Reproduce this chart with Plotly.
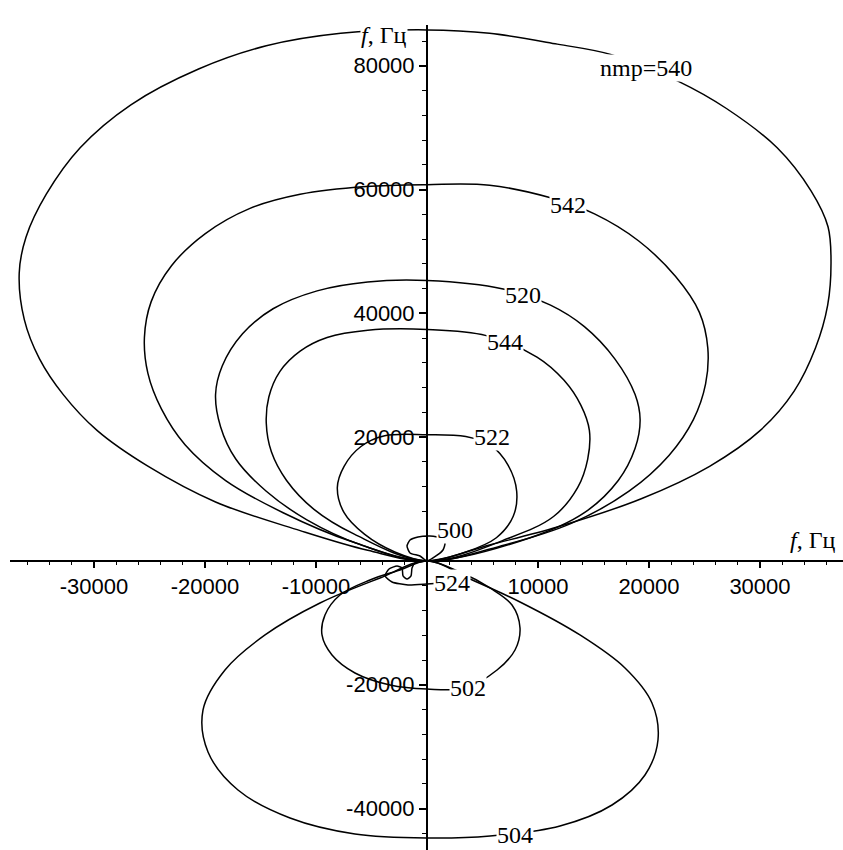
import plotly.graph_objects as go

# ---- curve data, Hz ----
x540 = [0, -5340, -11430, -19050, -25150, -29730, -32770, -34910, -36280, -36740, -36130, -34300, -31250, -26680, -20580, -14480, -7770, 0,
        5640, 11740, 16620, 22700, 26980, 31550, 34600, 36130, 36400, 36100, 35000, 33080, 30030, 25460, 19360, 11740, 5640, 0]
y540 = [0, 1730, 4910, 9540, 15320, 21100, 26880, 32660, 39000, 46500, 52300, 59250, 66760, 73700, 79480, 83230, 85250, 85800,
        85250, 83500, 81800, 77450, 73100, 66760, 59800, 54000, 48260, 41330, 34400, 27450, 21100, 15300, 10100, 5490, 2600, 0]

x542 = [0, -6860, -12960, -18140, -21800, -23930, -25150, -25460, -24850, -23020, -19970, -16000, -11430, -5500, 0,
        5640, 11130, 15090, 19050, 22400, 24540, 25300, 25100, 24000, 21800, 18200, 13000, 7000, 0]
y542 = [0, 3180, 7800, 13000, 18790, 24570, 30350, 36100, 41900, 47700, 52900, 56930, 59245, 60500, 60800,
        60700, 58670, 56070, 51730, 45950, 40170, 34390, 28600, 22830, 17050, 11270, 6070, 2600, 0]

x520 = [0, -5950, -10820, -14480, -17230, -18600, -19050, -18450, -16620, -13870, -9900, -5340, 0,
        6860, 11130, 14180, 16920, 18750, 19200, 18750, 17230, 14180, 9300, 0]
y520 = [0, 2600, 6650, 11270, 16470, 21700, 26900, 31500, 36700, 40750, 43640, 45080, 45300,
        43930, 41330, 37860, 32660, 26880, 22830, 18200, 13000, 7800, 3760, 0]

x544 = [0, -6550, -10210, -12650, -14020, -14480, -14250, -13260, -11430, -9000, -5340, 0,
        5340, 9910, 12350, 13870, 14630, 14480, 13570, 11430, 7470, 0]
y544 = [0, 4330, 8380, 13000, 17630, 22250, 26500, 30600, 33900, 36100, 37280, 37400,
        36410, 32950, 29190, 25140, 21100, 16470, 11850, 7230, 3760, 0]

x522 = [0, -2900, -5640, -7470, -8080, -7470, -5950, -3810, 0, 3500, 5800, 7300, 8080, 7770, 6250, 3500, 0]
y522 = [0, 1450, 4330, 7800, 11850, 15300, 18500, 20230, 20400, 20100, 18600, 15500, 11270, 7230, 3760, 1450, 0]

x500 = [0, -630, -1530, -1800, -1530, -810, 270, 1170, 1620, 1440, 810, 0]
y500 = [0, 810, 1290, 2420, 3390, 3880, 4040, 3720, 2910, 1780, 810, 0]

x524 = [0, -1080, -1350, -1440, -1800, -2160, -2250, -2700, -3420, -3780, -3150, -1710, 0, 1350]
y524 = [0, -320, -1130, -2420, -2910, -2420, -1130, -810, -1290, -2420, -3390, -3880, -3720, -3550]

x502 = [0, -2430, -5140, -7840, -9190, -9460, -8560, -6490, -3330, 0, 3420, 6310, 7930, 8380, 7660, 5680, 2970, 0]
y502 = [0, -1450, -3070, -5490, -8720, -11950, -15190, -18090, -20030, -20680, -20520, -17610, -14380, -10820, -7110, -4360, -1780, 0]

x504 = [0, -4230, -9640, -14590, -18200, -20180, -19730, -17030, -12340, -6490, 0, 5680, 11980, 16670, 19640, 20810, 20270, 17840, 13780, 8380, 3870, 0]
y504 = [0, -2750, -6790, -11950, -17610, -24070, -30860, -37000, -41520, -44100, -44750, -44430, -42810, -39420, -34570, -28920, -22940, -17290, -11950, -6620, -2910, 0]

curves = [
    ("540", x540, y540), ("542", x542, y542), ("520", x520, y520), ("544", x544, y544),
    ("522", x522, y522), ("500", x500, y500), ("524", x524, y524), ("502", x502, y502), ("504", x504, y504),
]

# curve labels: text, x, y
label_text = ["nmp=540", "542", "520", "544", "522", "500", "524", "502", "504"]
label_x = [19700, 12700, 8650, 7000, 5860, 2520, 2250, 3700, 7900]
label_y = [79600, 57500, 43000, 35300, 20000, 5000, -3550, -20500, -44300]

# axis ticks
xtick_vals = [-30000, -20000, -10000, 10000, 20000, 30000]
xtick_text = ["-30000", "-20000", "-10000", "10000", "20000", "30000"]
ytick_vals = [-40000, -20000, 20000, 40000, 60000, 80000]
ytick_text = ["-40000", "-20000", "20000", "40000", "60000", "80000"]

XMIN, XMAX = -37570, 37480
YMIN, YMAX = -46690, 86590

fig = go.Figure()
for name, xs, ys in curves:
    small = name in ("500", "524")
    fig.add_trace(go.Scatter(
        x=xs, y=ys, mode="lines", name=name,
        line=dict(color="black", width=1.5, shape="spline", smoothing=0.6 if small else 1.0),
        hoverinfo="skip", showlegend=False))

serif = "Liberation Serif, Times New Roman, serif"
for t, lx, ly in zip(label_text, label_x, label_y):
    fig.add_annotation(x=lx, y=ly, text=t, showarrow=False, xref="x", yref="y",
                       font=dict(family=serif, size=24, color="black"),
                       bgcolor="white", borderpad=0)

# axis titles
fig.add_annotation(x=-1700, y=85000, text="<i>f</i>, Гц", showarrow=False, xanchor="right",
                   font=dict(family=serif, size=24, color="black"), bgcolor="white", borderpad=0)
fig.add_annotation(x=37000, y=3400, text="<i>f</i>, Гц", showarrow=False, xanchor="right",
                   font=dict(family=serif, size=24, color="black"))

tickfont = dict(family="Liberation Sans, Arial, sans-serif", size=22, color="black")
fig.update_layout(
    width=843, height=850,
    margin=dict(l=10, r=0, t=25, b=0),
    paper_bgcolor="white", plot_bgcolor="white",
    xaxis=dict(range=[XMIN, XMAX], anchor="free", position=(0 - YMIN) / (YMAX - YMIN),
               showgrid=False, zeroline=False, showline=True, linecolor="black", linewidth=2,
               tickmode="array", tickvals=xtick_vals, ticktext=xtick_text,
               ticks="outside", ticklen=6, tickwidth=1.5, tickcolor="black", tickfont=tickfont,
               minor=dict(dtick=2000, tick0=0, ticks="outside", ticklen=3, tickwidth=1, tickcolor="black"),
               automargin=False, fixedrange=True),
    yaxis=dict(range=[YMIN, YMAX], anchor="free", position=(0 - XMIN) / (XMAX - XMIN),
               showgrid=False, zeroline=False, showline=True, linecolor="black", linewidth=2,
               tickmode="array", tickvals=ytick_vals, ticktext=ytick_text,
               ticks="outside", ticklen=7, tickwidth=1.5, tickcolor="black", tickfont=tickfont,
               minor=dict(dtick=4000, tick0=0, ticks="outside", ticklen=4, tickwidth=1, tickcolor="black"),
               automargin=False, fixedrange=True),
    showlegend=False,
)

fig.write_html(
    "out.html",
    config={"displayModeBar": False},
    post_script="document.body.style.margin='0';document.body.style.overflow='hidden';",
)
